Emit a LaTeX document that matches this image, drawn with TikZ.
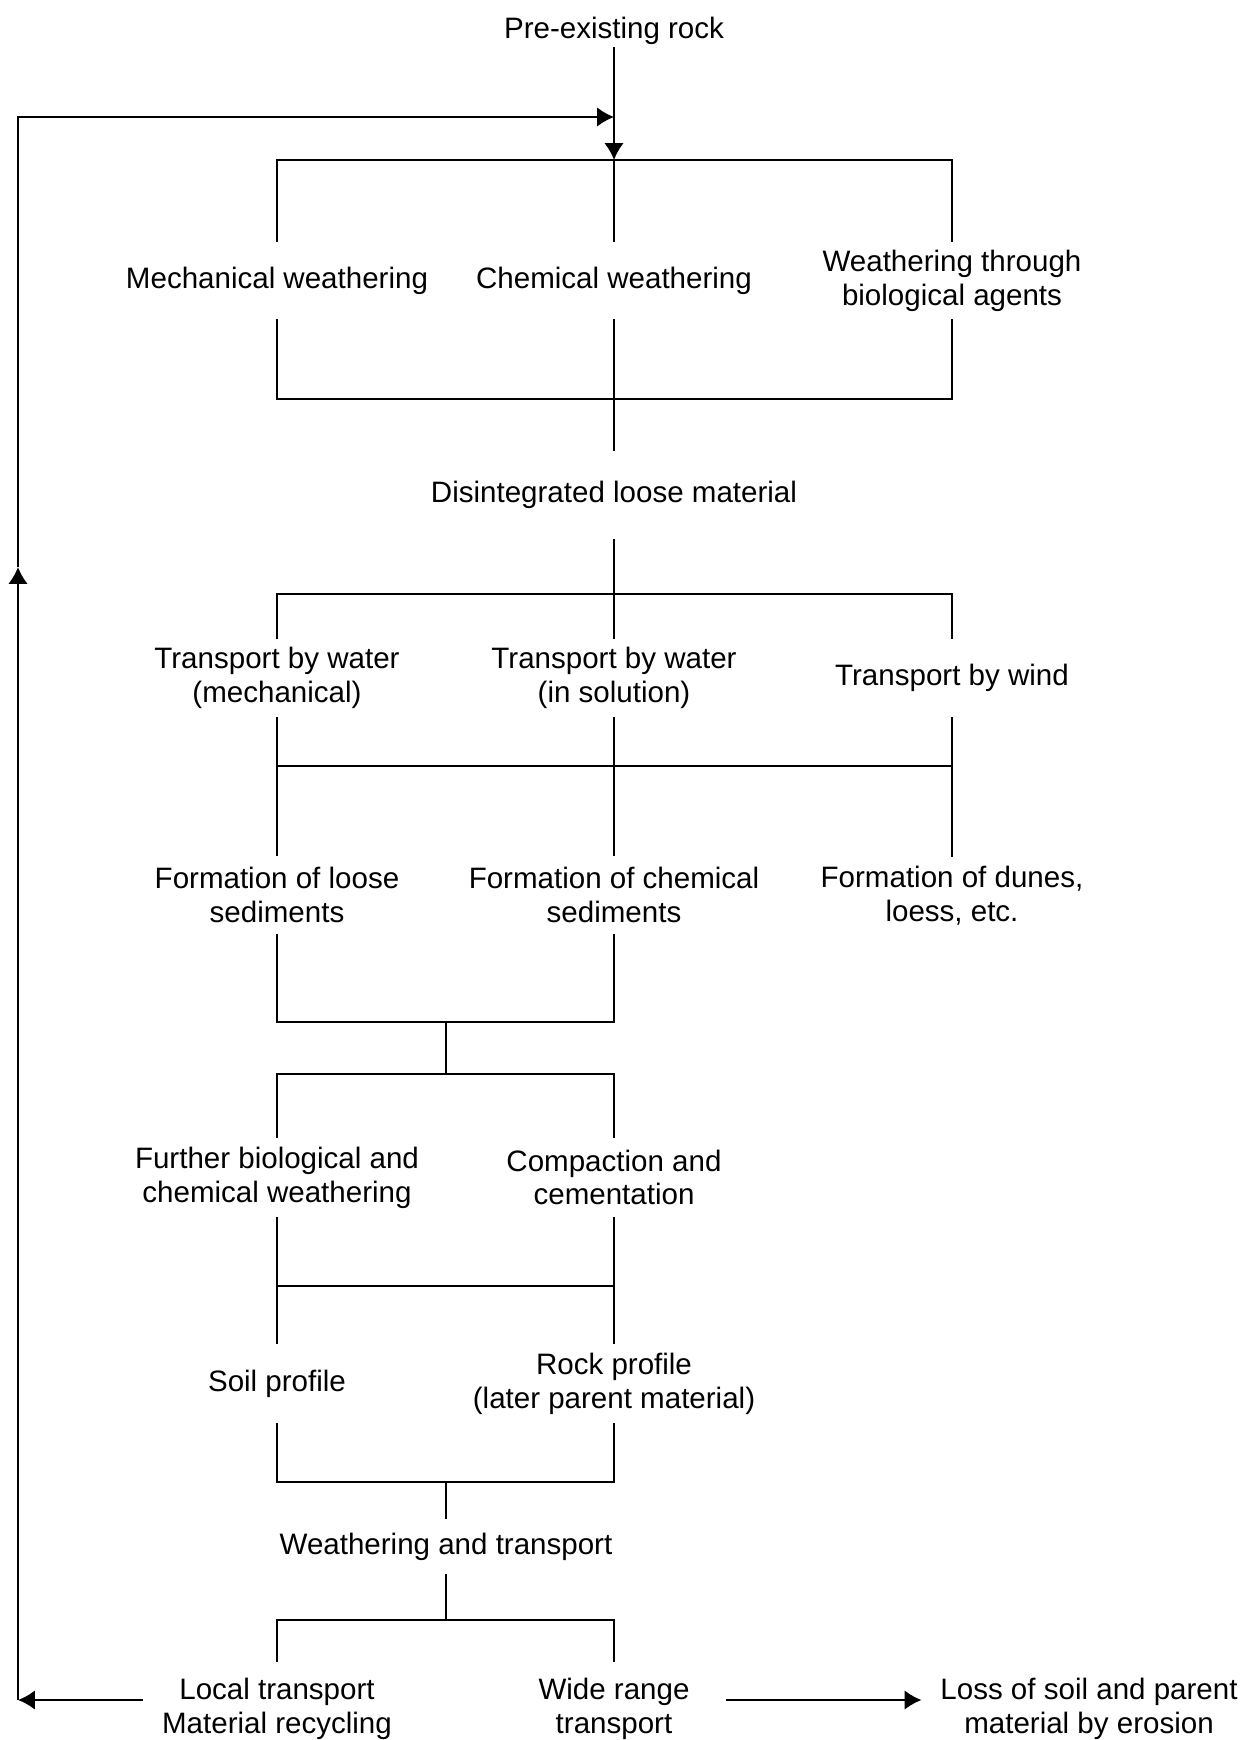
\documentclass[tikz,border=0pt]{standalone}
\usepackage{fontspec}
\setmainfont{Liberation Sans}
\usepackage{tikz}
\usetikzlibrary{arrows.meta,positioning}

\begin{document}
\begin{tikzpicture}[
    x=0.025cm, y=-0.025cm,
    >={Latex[length=0.42cm,width=0.48cm]},
    line width=1.3pt,
    font=\fontsize{21}{24}\selectfont,
    stage/.style={
		align=center,
		inner xsep=0.45cm,
		inner ysep=0pt,
		minimum height=1.9cm
	},
	tall/.style={
		minimum height=#1
	}
  ]
    \useasboundingbox (0,0) rectangle (1240,1740);
    % We start by placing the blocks

  \node [stage, tall=0.75cm] (pre) at (614,31) {Pre-existing rock};

  \node [stage, tall=1.875cm] (mech) at (277,280.5) {Mechanical weathering};
  \node [stage, tall=1.875cm] (chem) at (614,280.5) {Chemical weathering};
  \node [stage, tall=1.875cm] (bio) at (952,280.5) {Weathering through\\biological agents};

  \node [stage, tall=2.15cm] (dis) at (614,495) {Disintegrated loose material};

  \node [stage] (tw1) at (277,678) {Transport by water\\(mechanical)};
  \node [stage] (tw2) at (614,678) {Transport by water\\(in solution)};
  \node [stage] (wind) at (952,678) {Transport by wind};

  \node [stage] (floose) at (277,895) {Formation of loose\\sediments};
  \node [stage] (fchem) at (614,895) {Formation of chemical\\sediments};
  \node [stage] (fdunes) at (952,896) {Formation of dunes,\\loess, etc.};

  \node [stage, tall=1.925cm] (further) at (277,1177.5) {Further biological and\\chemical weathering};
  \node [stage, tall=1.925cm] (compact) at (614,1177.5) {Compaction and\\cementation};

  \node [stage, tall=1.925cm] (soil) at (277,1383.5) {Soil profile};
  \node [stage, tall=1.925cm] (rock) at (614,1383.5) {Rock profile\\(later parent material)};

  \node [stage, tall=1.325cm] (wt) at (446,1546.5) {Weathering and transport};

  \node [stage, tall=2.275cm] (local) at (277,1708.5) {Local transport\\Material recycling};
  \node [stage, tall=2.275cm] (wide) at (614,1708.5) {Wide range\\transport};
  \node [stage, tall=2.275cm] (loss) at (1089,1708.5) {Loss of soil and parent\\material by erosion};

  % bar levels
  \coordinate (bar1) at (614,160);
  \coordinate (bar2) at (614,399);
  \coordinate (bar3) at (614,594);
  \coordinate (bar4) at (614,766);
  \coordinate (bar5) at (446,1022);
  \coordinate (bar6) at (446,1074);
  \coordinate (bar7) at (446,1286);
  \coordinate (bar8) at (446,1482);
  \coordinate (bar9) at (446,1620);
  \coordinate (fbk) at (18,1700);
  \coordinate (fbmid) at (18,567);
  \coordinate (fbjoin) at (614,117);

  % weathering
  \draw [->] (pre) -- (bar1);
  \draw (mech.north) |- (bar1) -| (bio.north);
  \draw (bar1) -- (chem.north);
  \draw (mech.south) |- (bar2) -| (bio.south);
  \draw (chem.south) -- (dis.north);

  % transport
  \draw (tw1.north) |- (bar3) -| (wind.north);
  \draw (dis.south) -- (tw2.north);
  \draw (tw1.south) -- (floose.north);
  \draw (tw2.south) -- (fchem.north);
  \draw (wind.south) -- (fdunes.north);
  \draw (tw1 |- bar4) -- (wind |- bar4);

  % sediments
  \draw (floose.south) |- (bar5) -| (fchem.south);
  \draw (bar5) -- (bar6);
  \draw (further.north) |- (bar6) -| (compact.north);
  \draw (further.south) -- (soil.north);
  \draw (compact.south) -- (rock.north);
  \draw (further |- bar7) -- (compact |- bar7);

  % profiles
  \draw (soil.south) |- (bar8) -| (rock.south);
  \draw (bar8) -- (wt.north);
  \draw (wt.south) -- (bar9);
  \draw (local.north) |- (bar9) -| (wide.north);

  % recycling and loss
  \draw [->] (local.west |- fbk) -- (fbk);
  \draw [->] (fbk) -- (fbmid);
  \draw [->] (fbmid) |- (fbjoin);
  \draw [->, shorten <=0.45cm] (wide.east |- fbk) -- (loss.west |- fbk);

\end{tikzpicture}
\end{document}
